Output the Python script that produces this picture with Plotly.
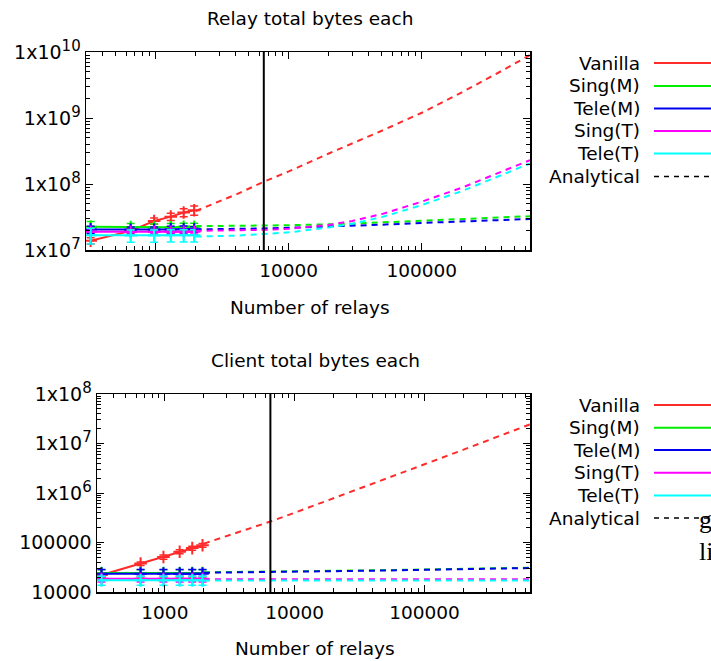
import plotly.graph_objects as go
import math

# ---------------- data ----------------
series_names = ["Vanilla", "Sing(M)", "Tele(M)", "Sing(T)", "Tele(T)"]
series_colors = ["#ff2a2a", "#00ee00", "#0000ee", "#ff00ff", "#00ffff"]

current_relays = 6500

exp_relays = [325, 650, 975, 1300, 1625, 1950]
ana_relays = [2000, 3000, 4000, 6500, 10000, 20000, 30000, 50000, 100000, 200000, 400000, 650000]

# Relay total bytes each (experimental)
relay_vanilla = [1.38e7, 1.95e7, 2.75e7, 3.2e7, 3.7e7, 4.0e7]
relay_vanilla_err = [0.15e7, 0.2e7, 0.3e7, 0.4e7, 0.5e7, 0.65e7]
relay_singm = [2.25e7, 2.22e7, 2.18e7, 2.22e7, 2.25e7, 2.25e7]
relay_singm_err = [0.45e7, 0.3e7, 0.3e7, 0.3e7, 0.3e7, 0.3e7]
relay_telem = [2.05e7, 2.03e7, 2.03e7, 2.05e7, 2.06e7, 2.06e7]
relay_telem_err = [0.25e7, 0.2e7, 0.2e7, 0.25e7, 0.25e7, 0.2e7]
relay_singt = [1.89e7, 1.88e7, 1.88e7, 1.89e7, 1.89e7, 1.89e7]
relay_singt_err = [0.2e7, 0.15e7, 0.15e7, 0.15e7, 0.15e7, 0.15e7]
relay_telet = [1.68e7, 1.66e7, 1.66e7, 1.67e7, 1.67e7, 1.67e7]
relay_telet_err = [0.45e7, 0.35e7, 0.35e7, 0.35e7, 0.35e7, 0.35e7]

# Relay total bytes each (analytical)
relay_vanilla_ana = [3.9e7, 5.4e7, 6.9e7, 1.08e8, 1.55e8, 2.9e8, 4.1e8, 6.4e8, 1.2e9, 2.45e9, 5.2e9, 9.0e9]
relay_singm_ana = [2.3e7, 2.3e7, 2.32e7, 2.35e7, 2.38e7, 2.45e7, 2.5e7, 2.62e7, 2.78e7, 2.92e7, 3.1e7, 3.25e7]
relay_telem_ana = [2.05e7, 2.06e7, 2.08e7, 2.12e7, 2.17e7, 2.25e7, 2.32e7, 2.42e7, 2.57e7, 2.7e7, 2.85e7, 2.95e7]
relay_singt_ana = [1.95e7, 1.96e7, 1.98e7, 2.02e7, 2.1e7, 2.4e7, 2.75e7, 3.5e7, 5.4e7, 8.8e7, 1.55e8, 2.3e8]
relay_telet_ana = [1.6e7, 1.62e7, 1.65e7, 1.75e7, 1.85e7, 2.2e7, 2.5e7, 3.15e7, 4.8e7, 7.8e7, 1.38e8, 2.05e8]

# Client total bytes each (experimental)
client_vanilla = [2.2e4, 3.75e4, 5.1e4, 6.5e4, 7.7e4, 8.8e4]
client_vanilla_err = [0.2e4, 0.3e4, 0.5e4, 0.6e4, 0.7e4, 0.8e4]
client_singm = [2.42e4, 2.42e4, 2.42e4, 2.42e4, 2.42e4, 2.42e4]
client_singm_err = [0.4e4, 0.4e4, 0.4e4, 0.4e4, 0.4e4, 0.4e4]
client_telem = [2.35e4, 2.35e4, 2.35e4, 2.35e4, 2.35e4, 2.35e4]
client_telem_err = [0.5e4, 0.5e4, 0.5e4, 0.5e4, 0.5e4, 0.5e4]
client_singt = [1.85e4, 1.85e4, 1.85e4, 1.85e4, 1.85e4, 1.85e4]
client_singt_err = [0.25e4, 0.25e4, 0.25e4, 0.25e4, 0.25e4, 0.25e4]
client_telet = [1.72e4, 1.72e4, 1.72e4, 1.72e4, 1.72e4, 1.72e4]
client_telet_err = [0.35e4, 0.35e4, 0.35e4, 0.35e4, 0.35e4, 0.35e4]

# Client total bytes each (analytical)
client_vanilla_ana = [9.5e4, 1.35e5, 1.75e5, 2.65e5, 4.0e5, 7.8e5, 1.16e6, 1.9e6, 3.8e6, 7.5e6, 1.5e7, 2.44e7]
client_singm_ana = [2.5e4, 2.52e4, 2.55e4, 2.6e4, 2.63e4, 2.68e4, 2.72e4, 2.77e4, 2.85e4, 2.93e4, 3.03e4, 3.1e4]
client_telem_ana = [2.45e4, 2.47e4, 2.5e4, 2.55e4, 2.58e4, 2.63e4, 2.67e4, 2.72e4, 2.8e4, 2.88e4, 2.98e4, 3.05e4]
client_singt_ana = [1.8e4, 1.8e4, 1.8e4, 1.8e4, 1.8e4, 1.8e4, 1.8e4, 1.8e4, 1.81e4, 1.81e4, 1.82e4, 1.82e4]
client_telet_ana = [1.7e4, 1.7e4, 1.7e4, 1.7e4, 1.7e4, 1.7e4, 1.7e4, 1.7e4, 1.7e4, 1.7e4, 1.71e4, 1.71e4]

SUP = "<sup><span style='font-size:15px'>{}</span></sup>"
x_tick_vals = [1000, 10000, 100000]
x_tick_text = ["1000", "10000", "100000"]
relay_y_tick_vals = [1e7, 1e8, 1e9, 1e10]
relay_y_tick_text = ["1x10" + SUP.format(7), "1x10" + SUP.format(8),
                     "1x10" + SUP.format(9), "1x10" + SUP.format(10)]
client_y_tick_vals = [1e4, 1e5, 1e6, 1e7, 1e8]
client_y_tick_text = ["10000", "100000", "1x10" + SUP.format(6),
                      "1x10" + SUP.format(7), "1x10" + SUP.format(8)]

relay_exp = [(relay_vanilla, relay_vanilla_err), (relay_singm, relay_singm_err),
             (relay_telem, relay_telem_err), (relay_singt, relay_singt_err),
             (relay_telet, relay_telet_err)]
relay_ana = [relay_vanilla_ana, relay_singm_ana, relay_telem_ana, relay_singt_ana, relay_telet_ana]
client_exp = [(client_vanilla, client_vanilla_err), (client_singm, client_singm_err),
              (client_telem, client_telem_err), (client_singt, client_singt_err),
              (client_telet, client_telet_err)]
client_ana = [client_vanilla_ana, client_singm_ana, client_telem_ana, client_singt_ana, client_telet_ana]

# ---------------- figure ----------------
W, H = 711, 661
FONT = "DejaVu Sans"
FS = 18.5
FS_TICK = 19

def px(x):
    return x / W

def py(y):
    return 1 - y / H

fig = go.Figure()

def add_panel(exp, ana, xa, ya):
    for (vals, errs), name, col in zip(exp, series_names, series_colors):
        fig.add_trace(go.Scatter(
            x=exp_relays, y=vals, mode="lines+markers", name=name,
            line=dict(color=col, width=2),
            marker=dict(symbol="cross-thin", size=9, line=dict(color=col, width=2)),
            error_y=dict(type="data", array=errs, visible=True, color=col, thickness=1.5, width=4),
            xaxis=xa, yaxis=ya, showlegend=False))
    for vals, col in zip(ana, series_colors):
        fig.add_trace(go.Scatter(
            x=ana_relays, y=vals, mode="lines",
            line=dict(color=col, width=2, dash="6px,5px"),
            xaxis=xa, yaxis=ya, showlegend=False))

add_panel(relay_exp, relay_ana, "x", "y")
add_panel(client_exp, client_ana, "x2", "y2")

xr = [math.log10(300), math.log10(650000)]

def minor_vals(lo, hi):
    out = []
    for e in range(lo, hi + 1):
        for m in range(2, 10):
            out.append(m * 10 ** e)
    return out

axis_common = dict(
    type="log", showgrid=False, zeroline=False, showline=True, linecolor="black",
    linewidth=1.5, mirror="allticks", ticks="inside", ticklen=7, tickwidth=1,
    tickcolor="black", automargin=False,
)

x_minor = dict(ticks="inside", ticklen=4, tickwidth=1, tickcolor="black",
               tickmode="array", tickvals=minor_vals(2, 5))
xtickfont = dict(family=FONT, size=FS, color="black")
ytickfont = dict(family=FONT, size=FS_TICK, color="black")

fig.update_layout(
    template="none",
    xaxis=dict(domain=[px(86), px(530)], range=xr, anchor="y",
               tickmode="array", tickvals=x_tick_vals, ticktext=x_tick_text,
               minor=x_minor, ticklabelstandoff=3, tickfont=xtickfont, **axis_common),
    yaxis=dict(domain=[py(250), py(52)], range=[7, 10], anchor="x",
               tickmode="array", tickvals=relay_y_tick_vals, ticktext=relay_y_tick_text,
               minor=dict(ticks="inside", ticklen=4, tickwidth=1, tickcolor="black",
                          tickmode="array", tickvals=minor_vals(7, 9)),
               ticklabelstandoff=0, tickfont=ytickfont, **axis_common),
    xaxis2=dict(domain=[px(97), px(530)], range=xr, anchor="y2",
                tickmode="array", tickvals=x_tick_vals, ticktext=x_tick_text,
                minor=x_minor, ticklabelstandoff=3, tickfont=xtickfont, **axis_common),
    yaxis2=dict(domain=[py(592), py(394)], range=[4, 8], anchor="x2",
                tickmode="array", tickvals=client_y_tick_vals, ticktext=client_y_tick_text,
                minor=dict(ticks="inside", ticklen=4, tickwidth=1, tickcolor="black",
                           tickmode="array", tickvals=minor_vals(4, 7)),
                ticklabelstandoff=0, tickfont=ytickfont, **axis_common),
)

# current network size marker
fig.add_shape(type="line", x0=current_relays, x1=current_relays, y0=0, y1=1,
              xref="x", yref="y domain", line=dict(color="black", width=2))
fig.add_shape(type="line", x0=current_relays, x1=current_relays, y0=0, y1=1,
              xref="x2", yref="y2 domain", line=dict(color="black", width=2))

annotations = []
def text(x, y, s, anchor="center", size=FS, family=FONT):
    annotations.append(dict(x=px(x), y=py(y), xref="paper", yref="paper", text=s,
                            showarrow=False, xanchor=anchor, yanchor="middle",
                            font=dict(family=family, size=size, color="black")))

text(310, 18, "Relay total bytes each")
text(310, 307, "Number of relays")
text(315, 360, "Client total bytes each")
text(315, 648, "Number of relays")

shapes = []
legend_rows_top = [63, 86, 108.5, 131, 153.5, 176.5]
legend_rows_bot = [405, 427.7, 450, 472.7, 495.5, 518]
for rows in (legend_rows_top, legend_rows_bot):
    for i, (name, col) in enumerate(zip(series_names, series_colors)):
        text(642, rows[i], name, anchor="right")
        shapes.append(dict(type="line", xref="paper", yref="paper", x0=px(654), x1=1.0,
                           y0=py(rows[i]), y1=py(rows[i]), line=dict(color=col, width=2)))
    text(642, rows[5], "Analytical", anchor="right")
    shapes.append(dict(type="line", xref="paper", yref="paper", x0=px(654), x1=1.0,
                       y0=py(rows[5]), y1=py(rows[5]),
                       line=dict(color="black", width=1.5, dash="5px,5px")))

# stray text from the surrounding page (cut at the right edge, as in the source)
text(697, 519, "g", anchor="left", size=26, family="Liberation Serif")
text(697, 551, "li", anchor="left", size=26, family="Liberation Serif")

for s in shapes:
    fig.add_shape(**s)

fig.update_layout(
    annotations=annotations,
    width=W, height=H, margin=dict(l=0, r=0, t=0, b=0, pad=0),
    paper_bgcolor="white", plot_bgcolor="white", showlegend=False,
    font=dict(family=FONT, size=FS, color="black"),
)

fig.write_html("out.html", config={"displayModeBar": False, "staticPlot": True},
               post_script="document.body.style.margin='0px';document.body.style.overflow='hidden';")
